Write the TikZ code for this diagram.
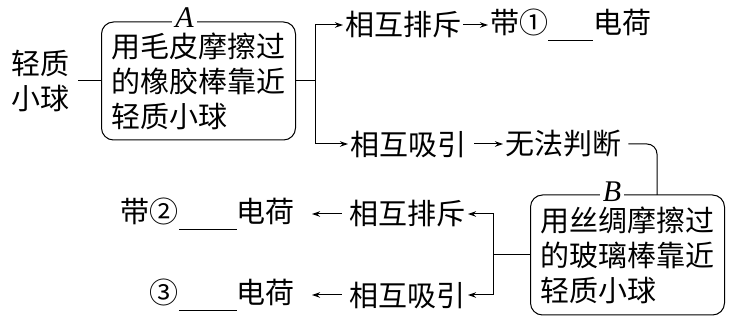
\documentclass[tikz,border=0pt]{standalone}
\usepackage{fontspec}
\newfontfamily\cjk{Noto Sans CJK SC}
\newfontfamily\tagfont{Liberation Serif}
\usetikzlibrary{positioning,arrows.meta}

\tikzset{
    txt/.style={font=\cjk\fontsize{29}{35}\selectfont, inner sep=2pt},
    stepbox/.style={txt, draw, line width=1pt, rounded corners=12pt, align=left, minimum width=194pt, minimum height=118pt},
    tag/.style={fill=white, inner xsep=3pt, inner ysep=0pt, font=\tagfont\fontsize{30}{30}\selectfont\itshape},
    link/.style={line width=1pt},
    flow/.style={link, -{Stealth[length=8pt,width=5.5pt]}},
}

\begin{document}
\begin{tikzpicture}[x=1pt, y=-1pt]
        \useasboundingbox (0,0) rectangle (731,320);

        \node[txt, align=center] (ball) at (41,81) {轻质\\小球};
        \node[stepbox] (rubA) at (198.5,81) {用毛皮摩擦过\\的橡胶棒靠近\\轻质小球};
        \node[tag] (tagA) at ([xshift=-14pt, yshift=4pt]rubA.north) {A};
        \coordinate (jA) at (315,81);

        \node[txt, anchor=west] (rep1) at (343,25) {相互排斥};
        \node[txt, anchor=west] (pos1) at (488,25) {带①\rule[-7pt]{45pt}{1pt}电荷};
        \node[txt, anchor=west] (att1) at (348,144) {相互吸引};
        \node[txt, anchor=west] (judge) at (503,144) {无法判断};

        \node[stepbox, minimum height=120pt] (rubB) at (627.5,255) {用丝绸摩擦过\\的玻璃棒靠近\\轻质小球};
        \node[tag] (tagB) at ([xshift=-15.5pt, yshift=3pt]rubB.north) {B};
        \coordinate (jB) at (657,195);
        \coordinate (jC) at (493,255);

        \node[txt, anchor=east] (rep2) at (468,214) {相互排斥};
        \node[txt, anchor=east] (att2) at (468,295) {相互吸引};
        \node[txt, anchor=east] (neg2) at (297,214) {带②\rule[-7pt]{58pt}{1pt}电荷};
        \node[txt, anchor=east] (neg3) at (297,295) {③\rule[-7pt]{58pt}{1pt}电荷};

        \draw[link, shorten <=6pt] (ball) -- (rubA);
        \draw[link] (rubA) -- (jA);
        \draw[flow] (jA) |- (rep1);
        \draw[flow] (jA) |- (att1);
        \draw[flow] (rep1) -- (pos1);
        \draw[flow, shorten <=6pt] (att1) -- (judge);

        \draw[link, rounded corners=10pt, shorten <=5pt] (judge.east) -| (jB);
        \draw[link] (rubB) -- (jC);
        \draw[flow] (jC) |- (rep2);
        \draw[flow] (jC) |- (att2);
        \draw[flow, shorten <=6pt, shorten >=15pt] (rep2) -- (neg2);
        \draw[flow, shorten <=6pt, shorten >=15pt] (att2) -- (neg3);
    \end{tikzpicture}
\end{document}
